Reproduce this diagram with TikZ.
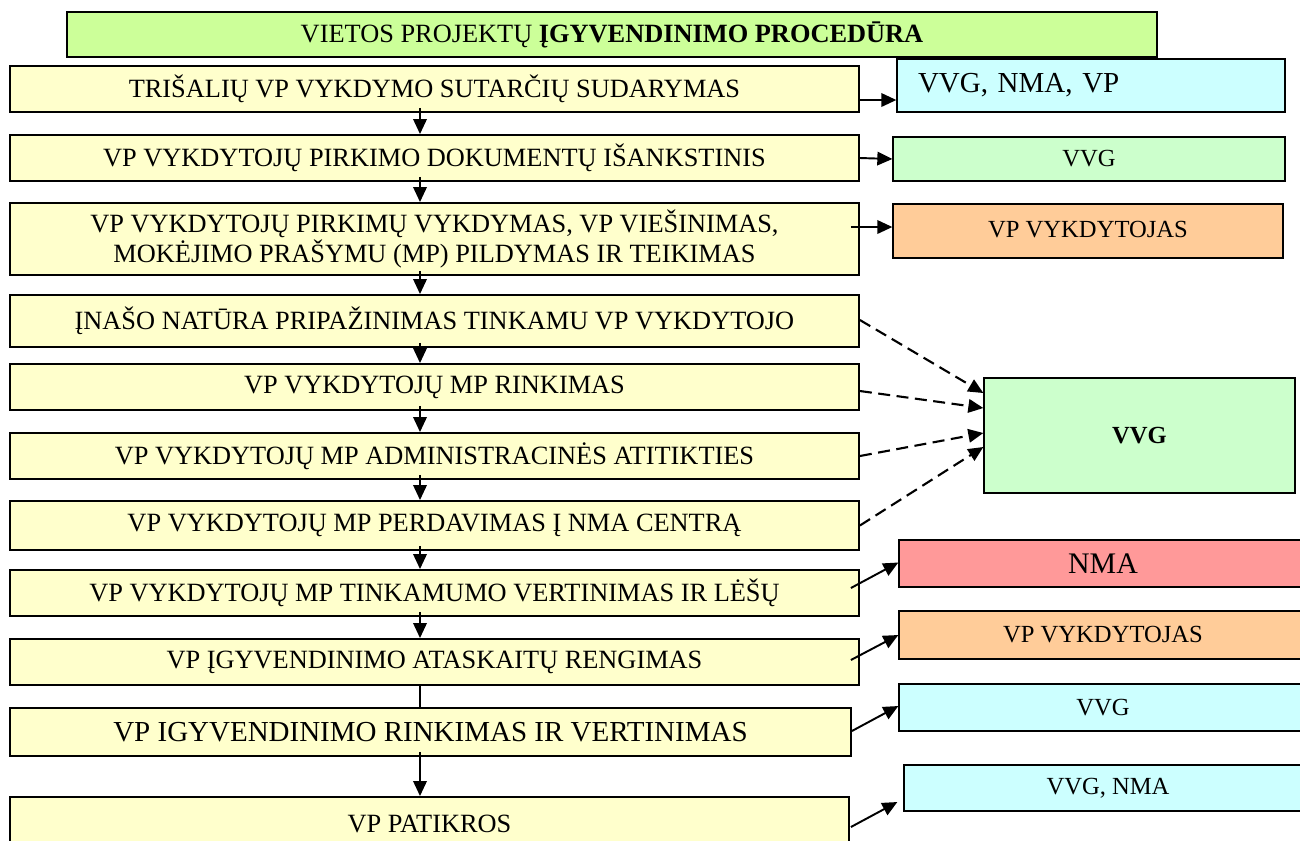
\documentclass[tikz,border=0pt]{standalone}
\usepackage{fontspec}
\setmainfont{Liberation Serif}
\usetikzlibrary{arrows.meta}
\definecolor{stagefill}{HTML}{FFFFCC}
\definecolor{titlefill}{HTML}{CCFF99}
\definecolor{cyanfill}{HTML}{CCFFFF}
\definecolor{greenfill}{HTML}{CCFFCC}
\definecolor{orangefill}{HTML}{FFCC99}
\definecolor{redfill}{HTML}{FF9999}

\begin{document}
\begin{tikzpicture}[x=0.02cm,y=-0.02cm,
    >={Triangle[length=0.3cm,width=0.27cm]},
    stage/.style={draw,line width=1.1pt,fill=stagefill,inner sep=0pt,minimum width=16.98cm,minimum height=0.92cm,align=center,font=\fontsize{15}{17.6}\selectfont},
    actor/.style={draw,line width=0.8pt,inner sep=0pt,minimum width=8.16cm,minimum height=0.94cm,font=\fontsize{14}{17}\selectfont},
    link/.style={->,line width=1.1pt},
    dlink/.style={->,line width=1.2pt,dash pattern=on 0.24cm off 0.13cm}]
    \useasboundingbox (0,0) rectangle (1300,840);
    % title
    \node[draw,line width=0.9pt,fill=titlefill,minimum width=21.8cm,minimum height=0.9cm,inner sep=0pt,font=\fontsize{15}{18}\selectfont] (title) at (612,34.5) {VIETOS PROJEKTŲ \textbf{ĮGYVENDINIMO PROCEDŪRA}};
    % procedure steps
    \node[stage] (b1) at (434.5,89) {TRIŠALIŲ VP VYKDYMO SUTARČIŲ SUDARYMAS};
    \node[stage] (b2) at (434.5,158) {VP VYKDYTOJŲ PIRKIMO DOKUMENTŲ IŠANKSTINIS};
    \node[stage,minimum height=1.44cm] (b3) at (434.5,239) {VP VYKDYTOJŲ PIRKIMŲ VYKDYMAS, VP VIEŠINIMAS,\\MOKĖJIMO PRAŠYMU (MP) PILDYMAS IR TEIKIMAS};
    \node[stage,minimum height=1.04cm] (b4) at (434.5,321) {ĮNAŠO NATŪRA PRIPAŽINIMAS TINKAMU VP VYKDYTOJO};
    \node[stage] (b5) at (434.5,387) {VP VYKDYTOJŲ MP RINKIMAS};
    \node[stage] (b6) at (434.5,456) {VP VYKDYTOJŲ MP ADMINISTRACINĖS ATITIKTIES};
    \node[stage,minimum height=0.98cm] (b7) at (434.5,525.5) {VP VYKDYTOJŲ MP PERDAVIMAS Į NMA CENTRĄ};
    \node[stage] (b8) at (434.5,593) {VP VYKDYTOJŲ MP TINKAMUMO VERTINIMAS IR LĖŠŲ};
    \node[stage] (b9) at (434.5,662) {VP ĮGYVENDINIMO ATASKAITŲ RENGIMAS};
    \node[stage,minimum width=16.82cm,minimum height=0.96cm,font=\fontsize{16.5}{19}\selectfont] (b10) at (430.5,732) {VP IGYVENDINIMO RINKIMAS IR VERTINIMAS};
    \node[stage,minimum width=16.78cm,minimum height=1.06cm] (b11) at (429.5,823.5) {VP PATIKROS};
    % responsible parties
    \node[actor,fill=cyanfill,inner xsep=0.42cm,text width=6.92cm,align=left,minimum width=7.76cm,minimum height=1.06cm,font=\fontsize{16.5}{19}\selectfont] (r1) at (1091,85.5) {VVG, NMA, VP};
    \node[actor,fill=greenfill,minimum width=7.84cm,minimum height=0.88cm] (r2) at (1089,159) {VVG};
    \node[actor,fill=orangefill,minimum width=7.8cm,minimum height=1.08cm] (r3) at (1088,231) {\raisebox{0.08cm}{VP VYKDYTOJAS}};
    \node[actor,fill=greenfill,minimum width=6.22cm,minimum height=2.3cm,font=\bfseries\fontsize{14}{17}\selectfont] (r4) at (1139.5,435.5) {VVG};
    \node[actor,fill=redfill,font=\fontsize{17}{20}\selectfont] (r5) at (1103,563.5) {NMA};
    \node[actor,fill=orangefill,minimum height=0.96cm] (r6) at (1103,635) {VP VYKDYTOJAS};
    \node[actor,fill=cyanfill] (r7) at (1103,707.5) {VVG};
    \node[actor,fill=cyanfill,minimum height=0.92cm] (r8) at (1108,788) {VVG, NMA};
    % main flow
    \coordinate (spine) at (420,0);
    \foreach \from/\to in {b1/b2,b2/b3,b3/b4,b4/b5,b5/b6,b6/b7,b7/b8,b8/b9,b10/b11}
    {
      \draw[link] ([yshift=0.1cm]\from.south -| spine) -- (\to.north -| spine);
    }
    \draw[line width=1.1pt] (b9.south -| spine) -- (b10.north -| spine);
    % links to parties
    \draw[link] ([shift={(0,11)}]b1.east) -- ([shift={(0,14.5)}]r1.west);
    \draw[link] (b2.east) -- (r2.west);
    \draw[link] ([shift={(-9,-12)}]b3.east) -- ([shift={(0,-4)}]r3.west);
    \draw[dlink] ([shift={(0,-1)}]b4.east) -- ([shift={(0,-42.5)}]r4.west);
    \draw[dlink] ([shift={(0,4)}]b5.east) -- ([shift={(0,-27.5)}]r4.west);
    \draw[dlink] (b6.east) -- ([shift={(0,-2.5)}]r4.west);
    \draw[dlink] (b7.east) -- ([shift={(0,11.5)}]r4.west);
    \draw[link] ([shift={(-9,-5)}]b8.east) -- ([shift={(0,-1)}]r5.west);
    \draw[link] ([shift={(-9,-2)}]b9.east) -- (r6.west);
    \draw[link] ([shift={(0,-1)}]b10.east) -- ([shift={(0,-1.5)}]r7.west);
    \draw[link] ([shift={(1,3.5)}]b11.east) -- ([shift={(-6,14)}]r8.west);
\end{tikzpicture}
\end{document}
